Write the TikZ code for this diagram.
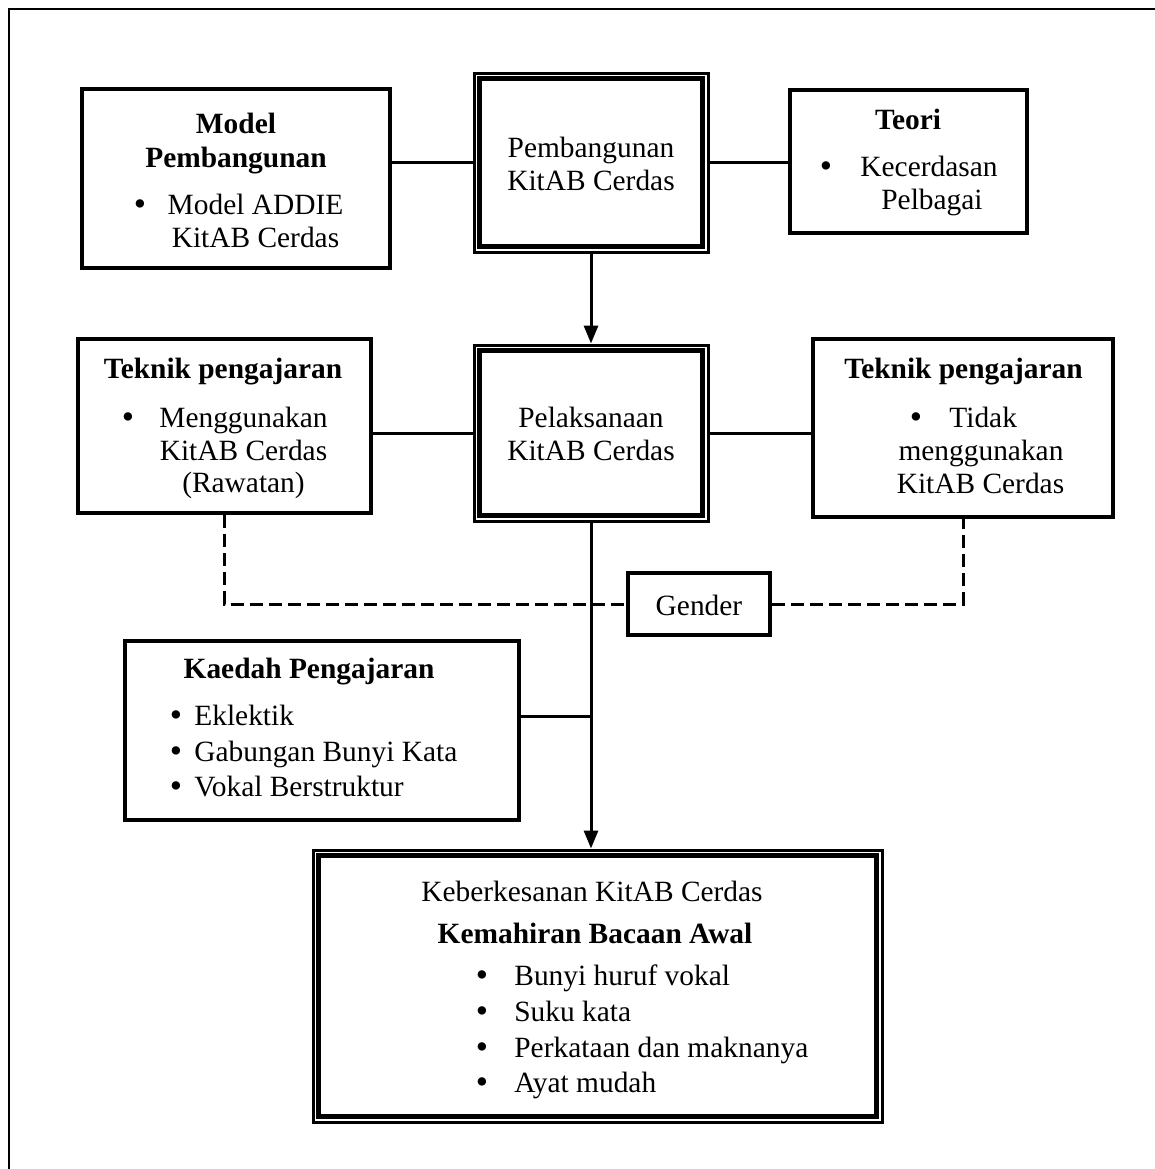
\documentclass[tikz,border=0pt]{standalone}
\usepackage{fontspec}
\setmainfont{Liberation Serif}
\usetikzlibrary{arrows.meta}
\begin{document}
\begin{tikzpicture}[x=0.5pt,y=-0.5pt,
  box/.style={draw, line width=2pt, inner sep=0pt},
  dbox/.style={draw, line width=1.5pt, inner sep=0pt},
  innerline/.style={line width=2.5pt},
  conn/.style={line width=1.5pt},
  dconn/.style={line width=1.5pt, dash pattern=on 6.5pt off 3pt},
  arr/.style={conn, -{Triangle[length=9pt,width=7pt]}},
  txt/.style={inner sep=0pt, font=\fontsize{14.7}{17.5}\selectfont},
  bold/.style={inner sep=0pt, font=\fontsize{14.7}{17.5}\selectfont\bfseries},
  bul/.style={inner sep=0pt, anchor=base, yshift=-0.9pt, font=\fontsize{17.5}{17.5}\selectfont}]
\useasboundingbox (0,0) rectangle (1155,1169);
% outer frame
\draw[line width=1pt] (9,1169) -- (9,9) -- (1155,9);

% boxes
\node[box, minimum width=154pt, minimum height=89.5pt] (mp) at (236,178.5) {};
\node[dbox, minimum width=117pt, minimum height=89.5pt] (pb) at (591,162.5) {};
\draw[innerline] ([shift={(7,7)}]pb.north west) rectangle ([shift={(-7,-7)}]pb.south east);
\node[box, minimum width=118.5pt, minimum height=71.5pt] (te) at (908.5,161.5) {};

\node[box, minimum width=146.5pt, minimum height=87pt] (tl) at (224.5,426) {};
\node[dbox, minimum width=117pt, minimum height=88pt] (pl) at (591,433) {};
\draw[innerline] ([shift={(7,7)}]pl.north west) rectangle ([shift={(-7,-7)}]pl.south east);
\node[box, minimum width=150pt, minimum height=89pt] (tr) at (963,428) {};

\node[box, minimum width=71pt, minimum height=31pt] (ge) at (699,604) {};
\node[box, minimum width=197pt, minimum height=89.5pt] (ka) at (322,730.5) {};

\node[dbox, minimum width=284.5pt, minimum height=136pt] (bo) at (597.5,986) {};
\draw[innerline] ([shift={(7,7)}]bo.north west) rectangle ([shift={(-7,-7)}]bo.south east);

% connectors
\draw[conn] (pb.west -| mp.east) -- (pb.west);
\draw[conn] (pb.east) -- (pb.east -| te.west);
\draw[arr] (pb.south) -- (pl.north);
\draw[conn] (pl.west -| tl.east) -- (pl.west);
\draw[conn] (pl.east) -- (pl.east -| tr.west);
\draw[dconn] (tl.south) |- (ge.west);
\draw[dconn] (ge.east) -| (tr.south);
\draw[arr] (pl.south) -- (pl.south |- bo.north);
\coordinate (j) at (591,716);
\draw[conn] (ka.east |- j) -- (j);

% texts: Model Pembangunan
\node[bold, anchor=base] (mp1) at (236,133) {Model};
\node[bold, anchor=base] (mp2) at (236,167) {Pembangunan};
\node[bul] (mpb) at (140,214) {•};
\node[txt, anchor=base] (mp3) at (255.5,214) {Model ADDIE};
\node[txt, anchor=base] (mp4) at (255.5,247) {KitAB Cerdas};

% Pembangunan KitAB Cerdas
\node[txt, anchor=base] (pb1) at (591,157) {Pembangunan};
\node[txt, anchor=base] (pb2) at (591,190) {KitAB Cerdas};

% Teori
\node[bold, anchor=base] (te1) at (908,129) {Teori};
\node[bul] (teb) at (826,176) {•};
\node[txt, anchor=base] (te2) at (929,176) {Kecerdasan};
\node[txt, anchor=base] (te3) at (932,209) {Pelbagai};

% Teknik pengajaran (left)
\node[bold, anchor=base] (tl1) at (223,378) {Teknik pengajaran};
\node[bul] (tlb) at (128,427) {•};
\node[txt, anchor=base] (tl2) at (243.5,427) {Menggunakan};
\node[txt, anchor=base] (tl3) at (243.5,460) {KitAB Cerdas};
\node[txt, anchor=base] (tl4) at (243.5,492) {(Rawatan)};

% Pelaksanaan
\node[txt, anchor=base] (pl1) at (591,427) {Pelaksanaan};
\node[txt, anchor=base] (pl2) at (591,460) {KitAB Cerdas};

% Teknik pengajaran (right)
\node[bold, anchor=base] (tr1) at (963.5,378) {Teknik pengajaran};
\node[bul] (trb) at (916,427) {•};
\node[txt, anchor=base west] (tr2) at (949,427) {Tidak};
\node[txt, anchor=base] (tr3) at (981,460) {menggunakan};
\node[txt, anchor=base] (tr4) at (980.5,493) {KitAB Cerdas};

% Gender
\node[txt, anchor=base] (ge1) at (699,615) {Gender};

% Kaedah Pengajaran
\node[bold, anchor=base] (ka1) at (309,678) {Kaedah Pengajaran};
\node[bul] (kab1) at (176,725) {•};
\node[txt, anchor=base west] (ka2) at (194,725) {Eklektik};
\node[bul] (kab2) at (176,761) {•};
\node[txt, anchor=base west] (ka3) at (194,761) {Gabungan Bunyi Kata};
\node[bul] (kab3) at (176,796) {•};
\node[txt, anchor=base west] (ka4) at (194,796) {Vokal Berstruktur};

% Keberkesanan
\node[txt, anchor=base] (bo1) at (592,901) {Keberkesanan KitAB Cerdas};
\node[bold, anchor=base] (bo2) at (595,943) {Kemahiran Bacaan Awal};
\node[bul] (bob1) at (482,985) {•};
\node[txt, anchor=base west] (bo3) at (514,985) {Bunyi huruf vokal};
\node[bul] (bob2) at (482,1021) {•};
\node[txt, anchor=base west] (bo4) at (514,1021) {Suku kata};
\node[bul] (bob3) at (482,1057) {•};
\node[txt, anchor=base west] (bo5) at (514,1057) {Perkataan dan maknanya};
\node[bul] (bob4) at (482,1092) {•};
\node[txt, anchor=base west] (bo6) at (514,1092) {Ayat mudah};
\end{tikzpicture}
\end{document}
